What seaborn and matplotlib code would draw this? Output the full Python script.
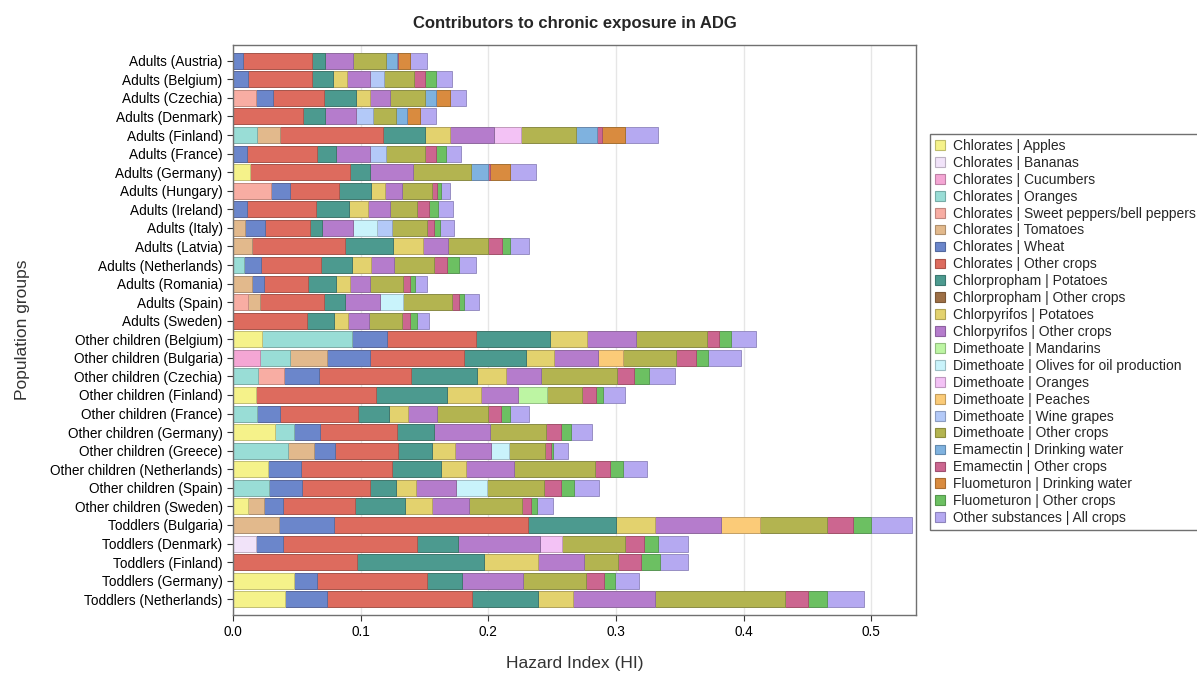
import matplotlib
matplotlib.use("Agg")
import matplotlib.pyplot as plt
import matplotlib.colors as mcolors
from matplotlib.patches import Patch
import numpy as np
import seaborn as sns

groups = [
    "Adults (Austria)", "Adults (Belgium)", "Adults (Czechia)", "Adults (Denmark)",
    "Adults (Finland)", "Adults (France)", "Adults (Germany)", "Adults (Hungary)",
    "Adults (Ireland)", "Adults (Italy)", "Adults (Latvia)", "Adults (Netherlands)",
    "Adults (Romania)", "Adults (Spain)", "Adults (Sweden)",
    "Other children (Belgium)", "Other children (Bulgaria)", "Other children (Czechia)",
    "Other children (Finland)", "Other children (France)", "Other children (Germany)",
    "Other children (Greece)", "Other children (Netherlands)", "Other children (Spain)",
    "Other children (Sweden)",
    "Toddlers (Bulgaria)", "Toddlers (Denmark)", "Toddlers (Finland)",
    "Toddlers (Germany)", "Toddlers (Netherlands)",
]

categories = [
    "Chlorates | Apples", "Chlorates | Bananas", "Chlorates | Cucumbers",
    "Chlorates | Oranges", "Chlorates | Sweet peppers/bell peppers",
    "Chlorates | Tomatoes", "Chlorates | Wheat", "Chlorates | Other crops",
    "Chlorpropham | Potatoes", "Chlorpropham | Other crops",
    "Chlorpyrifos | Potatoes", "Chlorpyrifos | Other crops",
    "Dimethoate | Mandarins", "Dimethoate | Olives for oil production",
    "Dimethoate | Oranges", "Dimethoate | Peaches", "Dimethoate | Wine grapes",
    "Dimethoate | Other crops", "Emamectin | Drinking water", "Emamectin | Other crops",
    "Fluometuron | Drinking water", "Fluometuron | Other crops",
    "Other substances | All crops",
]

colors = [
    "#f5f28a", "#f1e3f9", "#f4a6d4", "#99ddd6", "#f8ada3", "#e2b98c", "#6b86cb",
    "#dd6b5e", "#4c9a8f", "#9d6f45", "#e3d26e", "#b57ccc", "#bdf5a3", "#c9f3fb",
    "#f3c2f5", "#fbcb78", "#b3c9f8", "#b3b450", "#7fb2df", "#cc6690", "#d98b3f",
    "#6cc062", "#b5a9f1",
]

# hazard index contributions, one value per population group (same order as groups)
chlorates_apples = [0, 0, 0, 0, 0, 0, 0.013, 0, 0, 0, 0, 0, 0, 0, 0,
                    0.023, 0, 0, 0.018, 0, 0.033, 0, 0.0275, 0, 0.012,
                    0, 0, 0, 0.048, 0.041]
chlorates_bananas = [0, 0, 0, 0, 0, 0, 0, 0, 0, 0, 0, 0, 0, 0, 0,
                     0, 0, 0, 0, 0, 0, 0, 0, 0, 0,
                     0, 0.018, 0, 0, 0]
chlorates_cucumbers = [0, 0, 0, 0, 0, 0, 0, 0, 0, 0, 0, 0, 0, 0, 0,
                       0, 0.0215, 0, 0, 0, 0, 0, 0, 0, 0,
                       0, 0, 0, 0, 0]
chlorates_oranges = [0, 0, 0, 0, 0.019, 0, 0, 0, 0, 0, 0, 0.009, 0, 0, 0,
                     0.070, 0.023, 0.0196, 0, 0.0188, 0.015, 0.043, 0, 0.0285, 0,
                     0, 0, 0, 0, 0]
chlorates_peppers = [0, 0, 0.018, 0, 0, 0, 0, 0.030, 0, 0, 0, 0, 0, 0.0115, 0,
                     0, 0, 0.0207, 0, 0, 0, 0, 0, 0, 0,
                     0, 0, 0, 0, 0]
chlorates_tomatoes = [0, 0, 0, 0, 0.018, 0, 0, 0, 0, 0.0097, 0.015, 0, 0.015, 0.010, 0,
                      0, 0.029, 0, 0, 0, 0, 0.0207, 0, 0, 0.0126,
                      0.036, 0, 0, 0, 0]
chlorates_wheat = [0.008, 0.0115, 0.0136, 0, 0, 0.011, 0, 0.015, 0.011, 0.0157, 0, 0.013, 0.009, 0, 0,
                   0.0275, 0.034, 0.027, 0, 0.0178, 0.020, 0.0165, 0.026, 0.0256, 0.0144,
                   0.043, 0.021, 0, 0.018, 0.033]
chlorates_other = [0.054, 0.0505, 0.040, 0.0547, 0.0806, 0.055, 0.0788, 0.038, 0.0544, 0.0348,
                   0.0725, 0.0466, 0.0348, 0.0497, 0.0581,
                   0.0699, 0.0733, 0.072, 0.0937, 0.0615, 0.0602, 0.0492, 0.0709, 0.0531, 0.0563,
                   0.1523, 0.1052, 0.0973, 0.0856, 0.113]
chlorpropham_potatoes = [0.0097, 0.0165, 0.025, 0.0173, 0.0327, 0.0144, 0.0157, 0.0249, 0.0256, 0.0097,
                         0.0382, 0.0243, 0.022, 0.0165, 0.0209,
                         0.0583, 0.0489, 0.0515, 0.0563, 0.024, 0.0293, 0.0267, 0.0385, 0.0207, 0.0392,
                         0.0688, 0.0322, 0.0994, 0.028, 0.0523]
chlorpropham_other = [0] * 30
chlorpyrifos_potatoes = [0, 0.011, 0.011, 0, 0.020, 0, 0, 0.0113, 0.0147, 0, 0.0228, 0.0149, 0.0107, 0, 0.011,
                         0.0288, 0.0215, 0.023, 0.0262, 0.0152, 0, 0.0178, 0.0196, 0.0152, 0.0215,
                         0.0306, 0, 0.0426, 0, 0.027]
chlorpyrifos_other = [0.022, 0.018, 0.015, 0.024, 0.034, 0.027, 0.0332, 0.0128, 0.017, 0.0243,
                      0.020, 0.0183, 0.0157, 0.0272, 0.0165,
                      0.038, 0.0348, 0.0275, 0.0293, 0.0222, 0.044, 0.028, 0.038, 0.0319, 0.0288,
                      0.0518, 0.0641, 0.0353, 0.0479, 0.0646]
dimethoate_mandarins = [0, 0, 0, 0, 0, 0, 0, 0, 0, 0, 0, 0, 0, 0, 0,
                        0, 0, 0, 0.0225, 0, 0, 0, 0, 0, 0,
                        0, 0, 0, 0, 0]
dimethoate_olives = [0, 0, 0, 0, 0, 0, 0, 0, 0, 0.0183, 0, 0, 0, 0.0186, 0,
                     0, 0, 0, 0, 0, 0, 0.0144, 0, 0.0238, 0,
                     0, 0, 0, 0, 0]
dimethoate_oranges = [0, 0, 0, 0, 0.021, 0, 0, 0, 0, 0, 0, 0, 0, 0, 0,
                      0, 0, 0, 0, 0, 0, 0, 0, 0, 0,
                      0, 0.017, 0, 0, 0]
dimethoate_peaches = [0, 0, 0, 0, 0, 0, 0, 0, 0, 0, 0, 0, 0, 0, 0,
                      0, 0.0191, 0, 0, 0, 0, 0, 0, 0, 0,
                      0.030, 0, 0, 0, 0]
dimethoate_grapes = [0, 0.011, 0, 0.0136, 0, 0.0128, 0, 0, 0, 0.0118, 0, 0, 0, 0, 0,
                     0, 0, 0, 0, 0, 0, 0, 0, 0, 0,
                     0, 0, 0, 0, 0]
dimethoate_other = [0.026, 0.023, 0.0275, 0.0178, 0.043, 0.030, 0.0458, 0.0235, 0.0217, 0.028,
                    0.0314, 0.0314, 0.0259, 0.038, 0.0256,
                    0.0555, 0.0416, 0.0597, 0.0275, 0.0406, 0.0437, 0.0283, 0.0633, 0.045, 0.0413,
                    0.0531, 0.0494, 0.0272, 0.0489, 0.1015]
emamectin_water = [0.0086, 0, 0.009, 0.009, 0.0165, 0, 0.0136, 0, 0, 0, 0, 0, 0, 0, 0,
                   0, 0, 0, 0, 0, 0, 0, 0, 0, 0,
                   0, 0, 0, 0, 0]
emamectin_other = [0.001, 0.009, 0, 0, 0.004, 0.0086, 0.0016, 0.0042, 0.0089, 0.0052,
                   0.0107, 0.010, 0.0052, 0.0058, 0.0063,
                   0.010, 0.0157, 0.0128, 0.0105, 0.0102, 0.0118, 0.0044, 0.0118, 0.0131, 0.0071,
                   0.0201, 0.0147, 0.0178, 0.0144, 0.0178]
fluometuron_water = [0.009, 0, 0.0107, 0.010, 0.018, 0, 0.0155, 0, 0, 0, 0, 0, 0, 0, 0,
                     0, 0, 0, 0, 0, 0, 0, 0, 0, 0,
                     0, 0, 0, 0, 0]
fluometuron_other = [0, 0.0084, 0, 0, 0, 0.0078, 0, 0.003, 0.0076, 0.0047,
                     0.0063, 0.0097, 0.0039, 0.0034, 0.006,
                     0.0092, 0.0099, 0.0118, 0.0058, 0.0065, 0.0078, 0.0013, 0.010, 0.010, 0.0052,
                     0.0144, 0.0115, 0.0152, 0.0086, 0.0154]
other_substances = [0.014, 0.0123, 0.0128, 0.0126, 0.026, 0.0123, 0.0204, 0.0073, 0.0113, 0.011,
                    0.0152, 0.0131, 0.010, 0.0118, 0.0092,
                    0.0191, 0.0254, 0.0209, 0.0175, 0.0152, 0.0165, 0.0118, 0.0188, 0.0201, 0.0126,
                    0.0319, 0.023, 0.0215, 0.0188, 0.0283]

series = [
    chlorates_apples, chlorates_bananas, chlorates_cucumbers, chlorates_oranges,
    chlorates_peppers, chlorates_tomatoes, chlorates_wheat, chlorates_other,
    chlorpropham_potatoes, chlorpropham_other, chlorpyrifos_potatoes, chlorpyrifos_other,
    dimethoate_mandarins, dimethoate_olives, dimethoate_oranges, dimethoate_peaches,
    dimethoate_grapes, dimethoate_other, emamectin_water, emamectin_other,
    fluometuron_water, fluometuron_other, other_substances,
]


def darker(c, f=0.78):
    r, g, b = mcolors.to_rgb(c)
    return (r * f, g * f, b * f)


sns.set_theme(style="ticks")
plt.rcParams["font.family"] = ["Liberation Sans", "DejaVu Sans"]

fig = plt.figure(figsize=(11.97, 6.75), dpi=100)
ax = fig.add_axes([233 / 1197, 1 - 615 / 675, (916 - 233) / 1197, (615 - 45) / 675])

# stacked bars: draw running totals from the longest down, each one covering the previous
stacked = np.cumsum(np.array(series, dtype=float), axis=0)
for k in range(len(categories) - 1, -1, -1):
    sns.barplot(x=stacked[k], y=groups, orient="h", color=colors[k], saturation=1,
                width=0.86, errorbar=None, edgecolor=darker(colors[k]), linewidth=0.6, ax=ax)

ax.set_xlim(0, 0.535)
ax.set_ylim(29.85, -0.85)
ax.set_xticks([0.0, 0.1, 0.2, 0.3, 0.4, 0.5])
ax.set_xticklabels(["0.0", "0.1", "0.2", "0.3", "0.4", "0.5"])
ax.grid(axis="x", color="#e6e6e6", linewidth=1)
ax.set_axisbelow(True)
for s in ax.spines.values():
    s.set_color("#707070")
    s.set_linewidth(1)
ax.tick_params(axis="both", labelsize=9.8, colors="#333333", length=4, width=0.8, labelcolor="black")
ax.set_xlabel("Hazard Index (HI)", fontsize=12.5, color="#333333", labelpad=12)
ax.set_ylabel("Population groups", fontsize=12.5, color="#333333")
ax.yaxis.set_label_coords(-0.297, 0.5)
ax.set_title("Contributors to chronic exposure in ADG", fontsize=12, fontweight="bold", pad=12)

handles = [Patch(facecolor=c, edgecolor=darker(c), linewidth=0.8) for c in colors]
leg = fig.legend(handles, categories, loc="upper left", bbox_to_anchor=(930 / 1197, 1 - 134 / 675),
                 fontsize=10, frameon=True, fancybox=False, framealpha=1, borderpad=0.35,
                 labelspacing=0.21, handlelength=0.7, handleheight=0.7, handletextpad=0.6,
                 borderaxespad=0)
leg.get_frame().set_edgecolor("#707070")
leg.get_frame().set_linewidth(1)

fig.savefig("out.png", dpi=100)
